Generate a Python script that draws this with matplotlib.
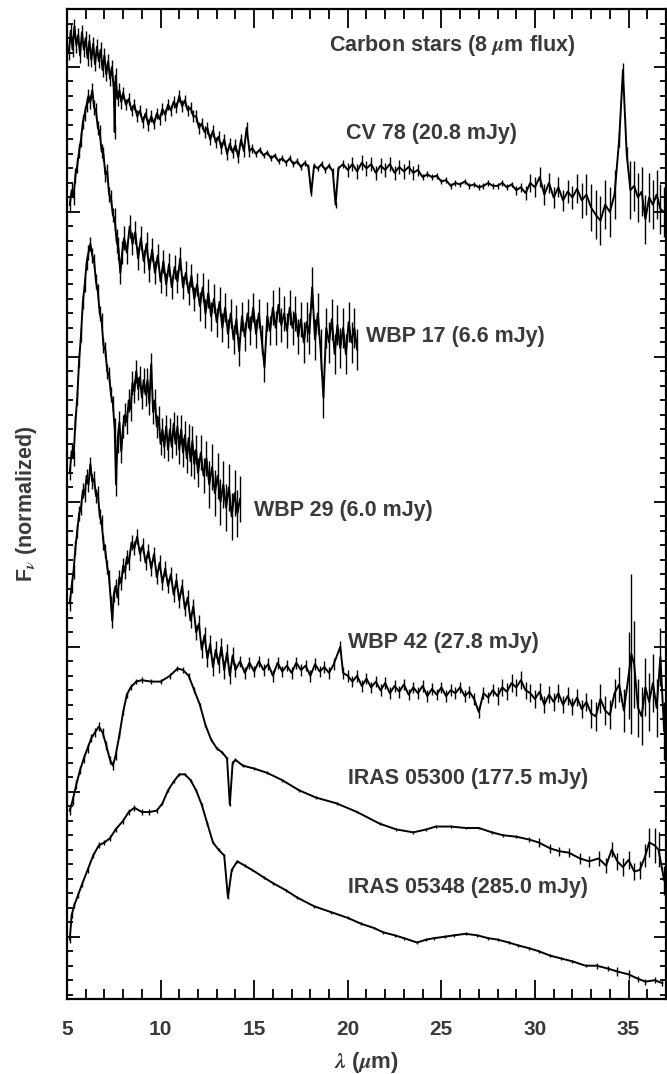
import matplotlib
matplotlib.use("Agg")
import matplotlib.pyplot as plt
import numpy as np
from matplotlib.ticker import MultipleLocator

plt.rcParams['font.family'] = ['Liberation Sans', 'DejaVu Sans']
plt.rcParams['font.weight'] = 'bold'
plt.rcParams['mathtext.fontset'] = 'stix'

# spectra as (wavelength [um], offset normalised F_nu, error)
cv78 = [
    (5.1, 6.10, .05), (5.2, 6.25, .05), (5.3, 6.12, .05), (5.4, 6.28, .05), (5.5, 6.15, .05),
    (5.6, 6.22, .05), (5.7, 6.08, .05), (5.8, 6.24, .05), (5.9, 6.12, .05), (6.0, 6.20, .05),
    (6.1, 6.06, .05), (6.2, 6.18, .05), (6.3, 6.05, .05), (6.4, 6.16, .05), (6.5, 6.02, .05),
    (6.6, 6.14, .05), (6.7, 6.04, .05), (6.8, 6.12, .05), (6.9, 5.98, .05), (7.0, 6.08, .05),
    (7.1, 5.95, .05), (7.2, 6.04, .05), (7.3, 5.92, .05), (7.4, 6.00, .05), (7.5, 5.85, .05),
    (7.55, 5.55, .05), (7.6, 5.94, .05), (7.7, 5.78, .05), (7.8, 5.84, .05), (7.9, 5.76, .05),
    (8.0, 5.82, .04), (8.15, 5.74, .04), (8.3, 5.78, .04), (8.45, 5.70, .04), (8.6, 5.74, .04),
    (8.75, 5.66, .04), (8.9, 5.70, .04), (9.05, 5.62, .04), (9.2, 5.68, .04), (9.35, 5.60, .04),
    (9.5, 5.66, .04), (9.65, 5.61, .04), (9.8, 5.68, .04), (9.95, 5.64, .04), (10.1, 5.71, .04),
    (10.25, 5.67, .04), (10.4, 5.74, .04), (10.55, 5.70, .04), (10.7, 5.76, .04), (10.85, 5.72, .04),
    (11.0, 5.80, .04), (11.15, 5.73, .04), (11.3, 5.77, .04), (11.45, 5.70, .04), (11.6, 5.72, .04),
    (11.75, 5.66, .04), (11.9, 5.66, .04), (12.05, 5.58, .04), (12.2, 5.61, .04), (12.35, 5.55, .04),
    (12.5, 5.58, .04), (12.65, 5.50, .04), (12.8, 5.56, .04), (12.95, 5.48, .04), (13.1, 5.52, .04),
    (13.25, 5.44, .04), (13.4, 5.50, .04), (13.55, 5.40, .04), (13.7, 5.47, .04), (13.85, 5.41, .04),
    (14.0, 5.46, .04), (14.15, 5.38, .04), (14.3, 5.50, .04), (14.45, 5.42, .04), (14.6, 5.58, .04),
    (14.75, 5.42, .04), (14.9, 5.44, .03), (15.1, 5.40, .02), (15.3, 5.43, .02), (15.5, 5.39, .02),
    (15.7, 5.41, .02), (15.9, 5.37, .02), (16.1, 5.39, .02), (16.3, 5.35, .02), (16.5, 5.37, .02),
    (16.7, 5.34, .02), (16.9, 5.37, .02), (17.1, 5.33, .02), (17.3, 5.35, .02), (17.5, 5.31, .02),
    (17.7, 5.34, .02), (17.9, 5.31, .02), (18.05, 5.13, .02), (18.2, 5.32, .02), (18.4, 5.30, .02),
    (18.6, 5.33, .02), (18.8, 5.29, .02), (19.0, 5.32, .02), (19.2, 5.28, .02), (19.35, 5.05, .02),
    (19.5, 5.30, .02), (19.75, 5.33, .03), (20.0, 5.29, .05), (20.25, 5.33, .05), (20.5, 5.28, .05),
    (20.75, 5.34, .05), (21.0, 5.30, .05), (21.25, 5.33, .05), (21.5, 5.27, .05), (21.75, 5.32, .05),
    (22.0, 5.29, .05), (22.25, 5.33, .05), (22.5, 5.27, .05), (22.75, 5.31, .05), (23.0, 5.28, .05),
    (23.25, 5.31, .05), (23.5, 5.27, .05), (23.75, 5.29, .04), (24.0, 5.24, .02), (24.25, 5.26, .02),
    (24.5, 5.24, .02), (24.75, 5.25, .02), (25.0, 5.21, .02), (25.25, 5.22, .02), (25.5, 5.18, .02),
    (25.75, 5.20, .02), (26.0, 5.19, .02), (26.25, 5.21, .02), (26.5, 5.18, .02), (26.75, 5.19, .02),
    (27.0, 5.17, .02), (27.25, 5.18, .02), (27.5, 5.20, .02), (27.75, 5.18, .02), (28.0, 5.18, .02),
    (28.25, 5.20, .02), (28.5, 5.17, .02), (28.75, 5.19, .02), (29.0, 5.15, .03), (29.25, 5.17, .03),
    (29.5, 5.13, .05), (29.75, 5.20, .06), (30.0, 5.17, .07), (30.25, 5.24, .07), (30.5, 5.12, .07),
    (30.75, 5.20, .07), (31.0, 5.10, .07), (31.25, 5.17, .07), (31.5, 5.08, .07), (31.75, 5.14, .08),
    (32.0, 5.10, .08), (32.25, 5.16, .10), (32.5, 5.08, .12), (32.75, 5.12, .14), (33.0, 5.03, .16),
    (33.25, 4.98, .17), (33.5, 4.94, .17), (33.75, 5.05, .17), (34.0, 5.00, .17), (34.25, 5.12, .17),
    (34.5, 5.50, .05), (34.7, 5.98, .05), (34.9, 5.40, .05), (35.1, 5.15, .20), (35.3, 5.18, .17),
    (35.5, 5.10, .17), (35.7, 5.14, .17), (35.9, 4.95, .17), (36.1, 5.10, .17), (36.3, 5.05, .17),
    (36.5, 5.12, .17), (36.7, 5.02, .17), (36.9, 5.00, .17),
]

wbp17 = [
    (5.15, 5.05, .05), (5.25, 5.15, .05), (5.35, 5.10, .05), (5.45, 5.25, .05), (5.55, 5.32, .05),
    (5.65, 5.42, .05), (5.75, 5.50, .05), (5.85, 5.62, .05), (5.95, 5.68, .05), (6.05, 5.74, .05),
    (6.15, 5.80, .05), (6.25, 5.76, .05), (6.35, 5.84, .05), (6.45, 5.72, .05), (6.55, 5.70, .05),
    (6.65, 5.58, .05), (6.75, 5.55, .05), (6.85, 5.42, .05), (6.95, 5.40, .05), (7.05, 5.26, .05),
    (7.15, 5.28, .05), (7.25, 5.12, .05), (7.35, 5.10, .05), (7.45, 4.98, .05), (7.55, 4.95, .08),
    (7.65, 4.80, .08), (7.75, 4.75, .08), (7.85, 4.58, .08), (7.95, 4.72, .08), (8.05, 4.82, .08),
    (8.2, 4.72, .08), (8.35, 4.90, .08), (8.5, 4.78, .08), (8.65, 4.86, .08), (8.8, 4.68, .08),
    (8.95, 4.82, .08), (9.1, 4.66, .08), (9.25, 4.78, .08), (9.4, 4.60, .08), (9.55, 4.74, .08),
    (9.7, 4.58, .08), (9.85, 4.70, .08), (10.0, 4.52, .08), (10.15, 4.66, .08), (10.3, 4.50, .08),
    (10.45, 4.64, .08), (10.6, 4.48, .08), (10.75, 4.62, .08), (10.9, 4.52, .08), (11.05, 4.68, .08),
    (11.2, 4.48, .08), (11.35, 4.58, .08), (11.5, 4.44, .08), (11.65, 4.56, .08), (11.8, 4.40, .08),
    (11.95, 4.50, .08), (12.1, 4.35, .10), (12.25, 4.48, .10), (12.4, 4.30, .10), (12.55, 4.44, .10),
    (12.7, 4.28, .10), (12.85, 4.40, .10), (13.0, 4.24, .10), (13.15, 4.38, .10), (13.3, 4.20, .10),
    (13.45, 4.34, .10), (13.6, 4.16, .10), (13.75, 4.30, .10), (13.9, 4.12, .10), (14.05, 4.26, .10),
    (14.2, 4.04, .10), (14.35, 4.28, .10), (14.5, 4.14, .10), (14.65, 4.30, .10), (14.8, 4.18, .10),
    (14.95, 4.34, .10), (15.1, 4.16, .10), (15.25, 4.30, .10), (15.4, 4.12, .10), (15.55, 3.93, .10),
    (15.7, 4.28, .10), (15.85, 4.18, .10), (16.0, 4.34, .12), (16.15, 4.20, .12), (16.3, 4.36, .12),
    (16.45, 4.22, .12), (16.6, 4.30, .12), (16.75, 4.18, .12), (16.9, 4.34, .12), (17.05, 4.20, .12),
    (17.2, 4.30, .12), (17.35, 4.14, .12), (17.5, 4.26, .12), (17.65, 4.10, .14), (17.8, 4.24, .14),
    (17.95, 4.16, .14), (18.1, 4.48, .14), (18.25, 4.12, .14), (18.4, 4.30, .14), (18.55, 4.05, .14),
    (18.7, 3.72, .14), (18.85, 4.20, .14), (19.0, 4.10, .14), (19.15, 4.26, .14), (19.3, 4.02, .14),
    (19.45, 4.22, .14), (19.6, 4.06, .14), (19.75, 4.20, .14), (19.9, 4.02, .14), (20.05, 4.24, .14),
    (20.2, 4.10, .14), (20.35, 4.20, .14), (20.5, 4.05, .14),
]

wbp29 = [
    (5.15, 3.20, .05), (5.25, 3.35, .05), (5.35, 3.30, .05), (5.45, 3.55, .05), (5.55, 3.72, .05),
    (5.65, 3.98, .05), (5.75, 4.15, .05), (5.85, 4.38, .05), (5.95, 4.50, .05), (6.05, 4.65, .05),
    (6.15, 4.72, .05), (6.25, 4.78, .05), (6.35, 4.70, .05), (6.45, 4.66, .05), (6.55, 4.52, .05),
    (6.65, 4.45, .05), (6.75, 4.30, .05), (6.85, 4.25, .05), (6.95, 4.08, .05), (7.05, 4.05, .05),
    (7.15, 3.90, .05), (7.25, 3.88, .05), (7.35, 3.74, .05), (7.45, 3.68, .05), (7.55, 3.50, .08),
    (7.62, 3.12, .08), (7.7, 3.42, .08), (7.8, 3.55, .08), (7.9, 3.35, .08), (8.0, 3.52, .08),
    (8.1, 3.60, .08), (8.2, 3.55, .08), (8.3, 3.70, .08), (8.4, 3.64, .08), (8.5, 3.82, .08),
    (8.6, 3.76, .08), (8.7, 3.90, .08), (8.8, 3.78, .08), (8.9, 3.86, .08), (9.0, 3.72, .08),
    (9.1, 3.84, .08), (9.2, 3.74, .08), (9.3, 3.84, .08), (9.4, 3.68, .08), (9.5, 3.95, .08),
    (9.6, 3.62, .08), (9.7, 3.70, .08), (9.8, 3.52, .08), (9.9, 3.58, .08), (10.0, 3.40, .08),
    (10.1, 3.50, .08), (10.2, 3.38, .08), (10.3, 3.52, .08), (10.4, 3.36, .08), (10.5, 3.50, .08),
    (10.6, 3.38, .08), (10.7, 3.54, .08), (10.8, 3.40, .08), (10.9, 3.52, .08), (11.0, 3.36, .10),
    (11.1, 3.50, .10), (11.2, 3.34, .10), (11.3, 3.46, .10), (11.4, 3.30, .10), (11.5, 3.44, .10),
    (11.6, 3.28, .10), (11.7, 3.42, .10), (11.8, 3.26, .10), (11.9, 3.36, .10), (12.0, 3.20, .10),
    (12.15, 3.34, .12), (12.3, 3.18, .12), (12.45, 3.30, .12), (12.6, 3.12, .16), (12.75, 3.24, .16),
    (12.9, 3.06, .16), (13.05, 3.18, .16), (13.2, 3.00, .16), (13.35, 3.12, .16), (13.5, 2.96, .16),
    (13.65, 3.10, .16), (13.8, 2.90, .16), (13.95, 3.06, .16), (14.1, 2.92, .16), (14.25, 3.02, .16),
]

wbp42 = [
    (5.15, 2.30, .05), (5.25, 2.42, .05), (5.35, 2.52, .05), (5.45, 2.68, .05), (5.55, 2.80, .05),
    (5.65, 2.92, .05), (5.75, 2.96, .05), (5.85, 3.08, .05), (5.95, 3.05, .05), (6.05, 3.18, .05),
    (6.15, 3.12, .05), (6.25, 3.26, .05), (6.35, 3.14, .05), (6.45, 3.16, .05), (6.55, 3.04, .05),
    (6.65, 3.06, .05), (6.75, 2.90, .05), (6.85, 2.86, .05), (6.95, 2.72, .05), (7.05, 2.66, .05),
    (7.15, 2.55, .05), (7.25, 2.48, .05), (7.35, 2.30, .05), (7.42, 2.18, .05), (7.5, 2.36, .05),
    (7.6, 2.42, .05), (7.7, 2.34, .05), (7.8, 2.48, .05), (7.9, 2.44, .05), (8.0, 2.56, .05),
    (8.1, 2.52, .05), (8.2, 2.62, .05), (8.3, 2.58, .05), (8.45, 2.72, .05), (8.6, 2.68, .05),
    (8.75, 2.76, .05), (8.9, 2.64, .05), (9.05, 2.70, .05), (9.2, 2.58, .05), (9.35, 2.66, .05),
    (9.5, 2.54, .05), (9.65, 2.64, .05), (9.8, 2.48, .05), (9.95, 2.58, .05), (10.1, 2.44, .05),
    (10.25, 2.54, .05), (10.4, 2.42, .05), (10.55, 2.50, .05), (10.7, 2.36, .05), (10.85, 2.46, .05),
    (11.0, 2.32, .05), (11.15, 2.42, .05), (11.3, 2.26, .05), (11.45, 2.34, .05), (11.6, 2.18, .05),
    (11.75, 2.28, .05), (11.9, 2.10, .05), (12.05, 2.16, .06), (12.2, 1.98, .06), (12.35, 2.08, .06),
    (12.5, 1.92, .06), (12.65, 2.02, .06), (12.8, 1.86, .06), (12.95, 1.98, .06), (13.1, 1.88, .06),
    (13.25, 2.00, .06), (13.4, 1.84, .06), (13.55, 1.96, .06), (13.7, 1.80, .06), (13.85, 1.94, .06),
    (14.0, 1.84, .05), (14.25, 1.90, .04), (14.5, 1.82, .04), (14.75, 1.89, .04), (15.0, 1.83, .04),
    (15.25, 1.90, .04), (15.5, 1.84, .04), (15.75, 1.88, .04), (16.0, 1.80, .04), (16.25, 1.89, .04),
    (16.5, 1.83, .04), (16.75, 1.87, .04), (17.0, 1.82, .04), (17.25, 1.89, .04), (17.5, 1.84, .04),
    (17.75, 1.87, .04), (18.0, 1.80, .04), (18.25, 1.88, .04), (18.5, 1.83, .04), (18.75, 1.86, .04),
    (19.0, 1.82, .04), (19.25, 1.88, .04), (19.6, 2.00, .04), (19.75, 1.82, .04), (20.0, 1.80, .04),
    (20.25, 1.76, .04), (20.5, 1.80, .04), (20.75, 1.73, .04), (21.0, 1.78, .04), (21.25, 1.72, .04),
    (21.5, 1.76, .04), (21.75, 1.70, .04), (22.0, 1.75, .04), (22.25, 1.68, .04), (22.5, 1.73, .04),
    (22.75, 1.69, .04), (23.0, 1.74, .04), (23.25, 1.67, .04), (23.5, 1.72, .04), (23.75, 1.68, .04),
    (24.0, 1.73, .04), (24.25, 1.66, .04), (24.5, 1.71, .04), (24.75, 1.67, .04), (25.0, 1.72, .04),
    (25.25, 1.66, .04), (25.5, 1.70, .04), (25.75, 1.68, .04), (26.0, 1.72, .04), (26.25, 1.66, .04),
    (26.5, 1.69, .04), (26.75, 1.64, .04), (27.0, 1.55, .04), (27.25, 1.68, .04), (27.5, 1.65, .04),
    (27.75, 1.70, .04), (28.0, 1.66, .06), (28.25, 1.72, .06), (28.5, 1.69, .06), (28.75, 1.75, .06),
    (29.0, 1.72, .06), (29.25, 1.77, .06), (29.5, 1.70, .06), (29.75, 1.68, .06), (30.0, 1.64, .06),
    (30.25, 1.69, .06), (30.5, 1.60, .06), (30.75, 1.67, .06), (31.0, 1.62, .06), (31.25, 1.68, .06),
    (31.5, 1.60, .06), (31.75, 1.66, .06), (32.0, 1.59, .06), (32.25, 1.65, .06), (32.5, 1.57, .06),
    (32.75, 1.62, .06), (33.0, 1.54, .10), (33.25, 1.52, .10), (33.5, 1.64, .10), (33.75, 1.56, .10),
    (34.0, 1.53, .10), (34.25, 1.68, .10), (34.5, 1.74, .12), (34.75, 1.56, .15), (35.0, 1.80, .30),
    (35.15, 1.95, .55), (35.3, 1.88, .30), (35.5, 1.58, .20), (35.7, 1.52, .20), (35.9, 1.72, .20),
    (36.1, 1.62, .20), (36.3, 1.75, .20), (36.5, 1.58, .20), (36.7, 1.93, .20), (36.9, 1.42, .20),
]

iras05300 = [
    (5.15, 0.87, .03), (5.3, 0.94, .03), (5.5, 1.05, .03), (5.7, 1.15, .03), (5.9, 1.23, .03),
    (6.1, 1.30, .03), (6.3, 1.37, .03), (6.5, 1.41, .03), (6.7, 1.45, .03), (6.9, 1.41, .03),
    (7.1, 1.32, .03), (7.3, 1.22, .03), (7.45, 1.18, .03), (7.6, 1.25, .03), (7.8, 1.39, .02),
    (8.0, 1.55, .02), (8.2, 1.67, .02), (8.4, 1.72, .02), (8.7, 1.76, .02), (9.0, 1.77, .02),
    (9.5, 1.76, .02), (10.0, 1.76, .02), (10.5, 1.80, .02), (10.9, 1.85, .02), (11.2, 1.84, .02),
    (11.5, 1.80, .02), (11.8, 1.70, .02), (12.1, 1.60, .01), (12.4, 1.46, .01), (12.7, 1.36, .01),
    (13.0, 1.30, .01), (13.3, 1.27, .01), (13.55, 1.23, .01), (13.7, 0.91, .01), (13.85, 1.20, .01),
    (14.0, 1.22, .01), (14.4, 1.18, .01), (15.0, 1.16, .01), (15.7, 1.13, .01), (16.5, 1.08, .01),
    (17.4, 1.01, .01), (18.3, 0.96, .01), (19.4, 0.92, .01), (20.5, 0.86, .01), (21.7, 0.78, .01),
    (22.6, 0.74, .01), (23.5, 0.72, .01), (24.2, 0.74, .01), (24.7, 0.76, .01), (25.5, 0.76, .01),
    (26.3, 0.75, .01), (27.0, 0.75, .01), (27.7, 0.72, .01), (28.3, 0.70, .01), (29.0, 0.69, .01),
    (29.7, 0.67, .02), (30.2, 0.65, .03), (30.8, 0.61, .03), (31.3, 0.59, .03), (31.8, 0.58, .03),
    (32.4, 0.54, .04), (32.9, 0.52, .04), (33.4, 0.54, .05), (33.8, 0.49, .05), (34.1, 0.60, .05),
    (34.4, 0.52, .06), (34.7, 0.48, .06), (35.0, 0.53, .06), (35.3, 0.45, .06), (35.6, 0.46, .06),
    (35.9, 0.56, .08), (36.1, 0.65, .10), (36.4, 0.63, .12), (36.6, 0.60, .12), (36.9, 0.39, .10),
]

iras05348 = [
    (5.15, -0.02, .02), (5.25, 0.15, .02), (5.4, 0.22, .02), (5.6, 0.29, .02), (5.8, 0.36, .02),
    (6.1, 0.46, .02), (6.4, 0.56, .02), (6.7, 0.63, .02), (7.0, 0.65, .02), (7.3, 0.68, .02),
    (7.6, 0.74, .02), (8.0, 0.80, .02), (8.3, 0.86, .02), (8.6, 0.89, .02), (9.0, 0.86, .02),
    (9.4, 0.86, .02), (9.8, 0.87, .02), (10.1, 0.92, .01), (10.4, 1.01, .01), (10.7, 1.07, .01),
    (11.0, 1.12, .01), (11.3, 1.12, .01), (11.6, 1.08, .01), (11.9, 1.01, .01), (12.2, 0.91, .01),
    (12.5, 0.78, .01), (12.8, 0.65, .01), (13.1, 0.60, .01), (13.4, 0.56, .01), (13.6, 0.27, .01),
    (13.8, 0.46, .01), (14.1, 0.52, .01), (14.5, 0.49, .01), (14.9, 0.46, .01), (15.5, 0.41, .01),
    (16.0, 0.37, .01), (16.7, 0.32, .01), (17.3, 0.27, .01), (18.2, 0.21, .01), (19.1, 0.17, .01),
    (20.0, 0.13, .01), (20.7, 0.09, .01), (21.4, 0.06, .01), (21.9, 0.03, .01), (22.5, 0.01, .01),
    (23.0, -0.01, .01), (23.7, -0.04, .01), (24.2, -0.02, .01), (24.6, -0.01, .01), (25.2, 0.00, .01),
    (25.7, 0.01, .01), (26.3, 0.02, .01), (26.9, 0.01, .01), (27.5, -0.01, .01), (28.0, -0.02, .01),
    (28.6, -0.04, .01), (29.1, -0.06, .01), (29.7, -0.08, .01), (30.2, -0.10, .01), (30.8, -0.13, .01),
    (31.4, -0.15, .01), (32.0, -0.17, .01), (32.7, -0.20, .01), (33.3, -0.20, .02), (33.9, -0.22, .02),
    (34.4, -0.24, .03), (35.0, -0.26, .03), (35.5, -0.29, .02), (35.9, -0.31, .02), (36.4, -0.30, .02),
    (36.8, -0.32, .02),
]

spectra = [cv78, wbp17, wbp29, wbp42, iras05300, iras05348]

labels = ['Carbon stars (8 $\\mu$m flux)', 'CV 78 (20.8 mJy)', 'WBP 17 (6.6 mJy)',
          'WBP 29 (6.0 mJy)', 'WBP 42 (27.8 mJy)', 'IRAS 05300 (177.5 mJy)',
          'IRAS 05348 (285.0 mJy)']
label_x = [19.0, 19.9, 21.0, 15.0, 20.0, 20.0, 20.0]
label_y = [6.15, 5.54, 4.14, 2.94, 2.03, 1.09, 0.34]

fig, ax = plt.subplots(figsize=(6.67, 10.74), dpi=100)
fig.subplots_adjust(left=0.1004, right=0.9985, top=0.9916, bottom=0.0698)

for s in spectra:
    w, f, e = np.array(s).T
    ax.errorbar(w, f, yerr=e, fmt='-', color='black', lw=1.4,
                elinewidth=1.0, capsize=0)

for txt, x, y in zip(labels, label_x, label_y):
    ax.text(x, y, txt, fontsize=15.5, fontweight='bold', color='#3a3a3a',
            ha='left', va='center')

ax.set_xlim(5, 37)
ax.set_ylim(-0.43, 6.40)
ax.xaxis.set_major_locator(MultipleLocator(5))
ax.xaxis.set_minor_locator(MultipleLocator(1))
ax.yaxis.set_major_locator(MultipleLocator(1))
ax.yaxis.set_minor_locator(MultipleLocator(0.1))
ax.tick_params(which='both', direction='in', top=True, right=True,
               labelleft=False, width=1.3, colors='black')
ax.tick_params(axis='x', which='major', length=14, pad=15,
               labelsize=15, labelcolor='#3a3a3a')
ax.tick_params(axis='x', which='minor', length=7)
ax.tick_params(axis='y', which='major', length=9)
ax.tick_params(axis='y', which='minor', length=4.5)
for lab in ax.get_xticklabels():
    lab.set_fontweight('bold')
for sp in ax.spines.values():
    sp.set_linewidth(1.6)

ax.set_xlabel('$\\lambda$ ($\\mu$m)', fontsize=16, fontweight='bold',
              color='#3a3a3a', labelpad=8)
ax.set_ylabel('F$_\\nu$ (normalized)', fontsize=15.5, fontweight='bold',
              color='#3a3a3a', labelpad=20)

fig.savefig("out.png", dpi=100)
